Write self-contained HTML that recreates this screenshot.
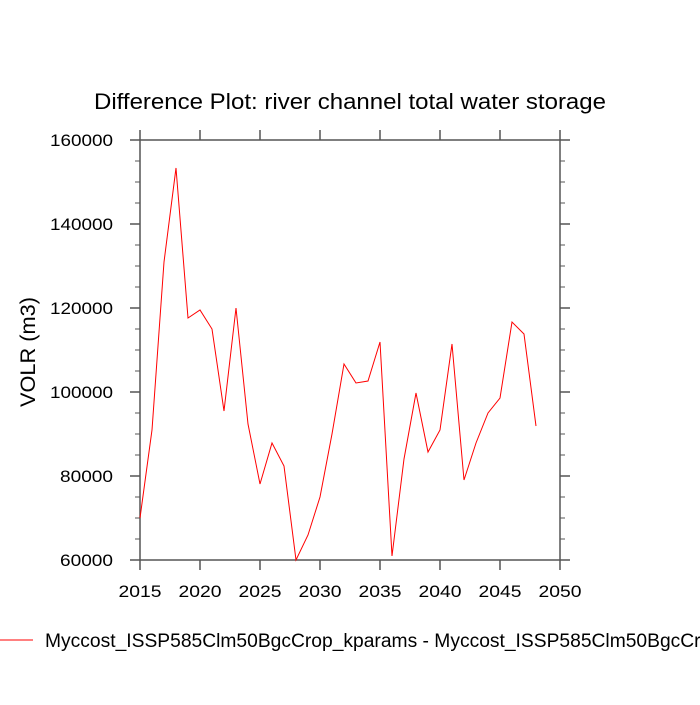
<!DOCTYPE html>
<html><head><style>body{margin:0;background:#fff}</style></head><body>
<svg width="700" height="700" xmlns="http://www.w3.org/2000/svg" font-family="Liberation Sans, sans-serif">
<rect width="700" height="700" fill="#fff"/>
<text x="94" y="109" font-size="22" textLength="512" lengthAdjust="spacingAndGlyphs">Difference Plot: river channel total water storage</text>
<g stroke="#555" stroke-width="1.5" fill="none">
<rect x="140" y="140" width="420" height="420"/>
<path d="M140,140v-10M200,140v-10M260,140v-10M320,140v-10M380,140v-10M440,140v-10M500,140v-10M560,140v-10
M140,560v10M200,560v10M260,560v10M320,560v10M380,560v10M440,560v10M500,560v10M560,560v10
M140,140h-10M140,224h-10M140,308h-10M140,392h-10M140,476h-10M140,560h-10
M560,140h10M560,224h10M560,308h10M560,392h10M560,476h10M560,560h10"/>
<path stroke-width="1" d="M140,161h-5M140,182h-5M140,203h-5M140,245h-5M140,266h-5M140,287h-5M140,329h-5M140,350h-5M140,371h-5M140,413h-5M140,434h-5M140,455h-5M140,497h-5M140,518h-5M140,539h-5
M560,161h5M560,182h5M560,203h5M560,245h5M560,266h5M560,287h5M560,329h5M560,350h5M560,371h5M560,413h5M560,434h5M560,455h5M560,497h5M560,518h5M560,539h5"/>
</g>
<g font-size="17" text-anchor="end">
<text x="113" y="146" textLength="63" lengthAdjust="spacingAndGlyphs">160000</text><text x="113" y="230" textLength="63" lengthAdjust="spacingAndGlyphs">140000</text><text x="113" y="314" textLength="63" lengthAdjust="spacingAndGlyphs">120000</text>
<text x="113" y="398" textLength="63" lengthAdjust="spacingAndGlyphs">100000</text><text x="113" y="482" textLength="53" lengthAdjust="spacingAndGlyphs">80000</text><text x="113" y="566" textLength="53" lengthAdjust="spacingAndGlyphs">60000</text>
</g>
<g font-size="17" text-anchor="middle">
<text x="140" y="597" textLength="43" lengthAdjust="spacingAndGlyphs">2015</text><text x="200" y="597" textLength="43" lengthAdjust="spacingAndGlyphs">2020</text><text x="260" y="597" textLength="43" lengthAdjust="spacingAndGlyphs">2025</text><text x="320" y="597" textLength="43" lengthAdjust="spacingAndGlyphs">2030</text>
<text x="380" y="597" textLength="43" lengthAdjust="spacingAndGlyphs">2035</text><text x="440" y="597" textLength="43" lengthAdjust="spacingAndGlyphs">2040</text><text x="500" y="597" textLength="43" lengthAdjust="spacingAndGlyphs">2045</text><text x="560" y="597" textLength="43" lengthAdjust="spacingAndGlyphs">2050</text>
</g>
<text transform="translate(35,352) rotate(-90)" font-size="21" text-anchor="middle" textLength="110" lengthAdjust="spacingAndGlyphs">VOLR  (m3)</text>
<polyline fill="none" stroke="#f00" stroke-width="1" points="140,518 152,430 164,262 176,168 188,318 200,310 212,329 224,411 236,308 248,424 260,484 272,443 284,466 296,560 308,535 320,497 332,434 344,364 356,383 368,381 380,342 392,556 404,459 416,393 428,452 440,430 452,344 464,480 476,443 488,413 500,398 512,322 524,334 536,426"/>
<line x1="0" y1="640" x2="33" y2="640" stroke="#f00" stroke-width="1"/>
<text x="45" y="647" font-size="19" textLength="677" lengthAdjust="spacingAndGlyphs">Myccost_ISSP585Clm50BgcCrop_kparams - Myccost_ISSP585Clm50BgcCrop</text>
</svg>
</body></html>
